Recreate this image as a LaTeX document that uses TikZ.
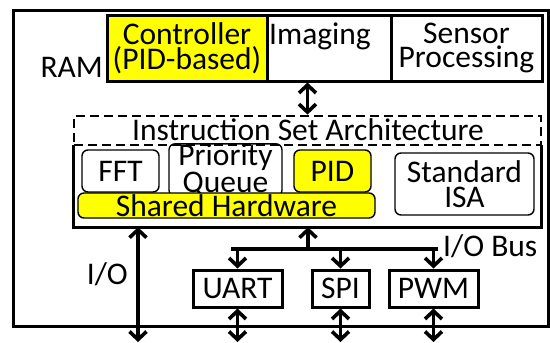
\documentclass[tikz,border=0pt]{standalone}
\usepackage{fontspec}
\setmainfont{Carlito}
\usetikzlibrary{arrows.meta}
\definecolor{hwyellow}{RGB}{255,255,0}

\begin{document}
\begin{tikzpicture}[x=1pt, y=-1pt,
    font=\fontsize{31.5}{24.5}\selectfont,
    box/.style={draw, rectangle, line width=3pt, inner sep=0pt, align=center},
    unit/.style={draw, rectangle, rounded corners=6pt, line width=1.4pt, inner sep=0pt, align=center},
    bus/.style={line width=3.6pt},
    dbl/.style={bus, {Straight Barb[length=8pt,width=17pt]}-{Straight Barb[length=8pt,width=17pt]}},
    sgl/.style={bus, -{Straight Barb[length=8pt,width=17pt]}}]
    \useasboundingbox (0,0) rectangle (550,343);

    \node[box, minimum width=535, minimum height=316] (chip) at (280.5,168) {};

    \node[box, fill=hwyellow, minimum width=160, minimum height=66] (ctrl) at (187,48) {Controller\\(PID-based)};
    \node[box, minimum width=124, minimum height=66] (imaging) at (329,48) {};
    \node[anchor=base, inner sep=0pt] (imglbl) at (320,44) {Imaging};
    \node[box, minimum width=151, minimum height=66] (sensor) at (466.5,48) {Sensor\\Processing};
    \node[anchor=base east, inner sep=0pt] (ramlbl) at (103,77) {RAM};

    \node[box, dashed, line width=2.8pt, dash pattern=on 9pt off 5pt, minimum width=467, minimum height=29] (isa) at (307.5,130.5) {};
    \node[anchor=base, inner sep=0pt] (isalbl) at (308,140) {Instruction Set Architecture};
    \node[minimum width=467, minimum height=82, inner sep=0pt] (core) at (307.5,186) {};
    \draw[line width=3pt] (core.north west) |- (core.south east) -- (core.north east);

    \node[unit, minimum width=77, minimum height=42] (fft) at (120.5,171) {FFT};
    \node[unit, minimum width=113, minimum height=42, font=\fontsize{31.5}{16}\selectfont] (pq) at (225.5,170) {Priority\\Queue};
    \node[unit, fill=hwyellow, minimum width=77, minimum height=42] (pid) at (332.5,171) {PID};
    \node[unit, fill=hwyellow, minimum width=297, minimum height=25] (shared) at (226.5,205.5) {Shared Hardware};
    \node[unit, minimum width=139, minimum height=62] (stdisa) at (464.5,184) {Standard\\ISA};

    \node[box, minimum width=89, minimum height=37] (uart) at (237.5,288.5) {UART};
    \node[box, minimum width=57, minimum height=37] (spi) at (340.5,288.5) {SPI};
    \node[box, minimum width=89, minimum height=37] (pwm) at (433.5,288.5) {PWM};

    \coordinate (busl) at (231,249);
    \coordinate (busr) at (438,249);
    \coordinate (bustap) at (308,249);
    \coordinate (ioend) at (138,342);

    \draw[dbl] (isa.north |- imaging.south) -- (isa.north);
    \draw[bus] (busl) -- (busr);
    \node[anchor=base west, inner sep=0pt] (buslbl) at (443,256) {I/O Bus};
    \draw[sgl] (bustap) -- (bustap |- core.south);
    \draw[sgl] (uart.north |- busl) -- (uart.north);
    \draw[sgl] (spi.north |- busl) -- (spi.north);
    \draw[sgl] (pwm.north |- busl) -- (pwm.north);

    \draw[dbl] (ioend |- core.south) -- (ioend);
    \node[anchor=base east, inner sep=0pt] (iolbl) at (128,284) {I/O};
    \draw[dbl] (uart.south) -- (uart.south |- ioend);
    \draw[dbl] (spi.south) -- (spi.south |- ioend);
    \draw[dbl] (pwm.south) -- (pwm.south |- ioend);
\end{tikzpicture}
\end{document}
